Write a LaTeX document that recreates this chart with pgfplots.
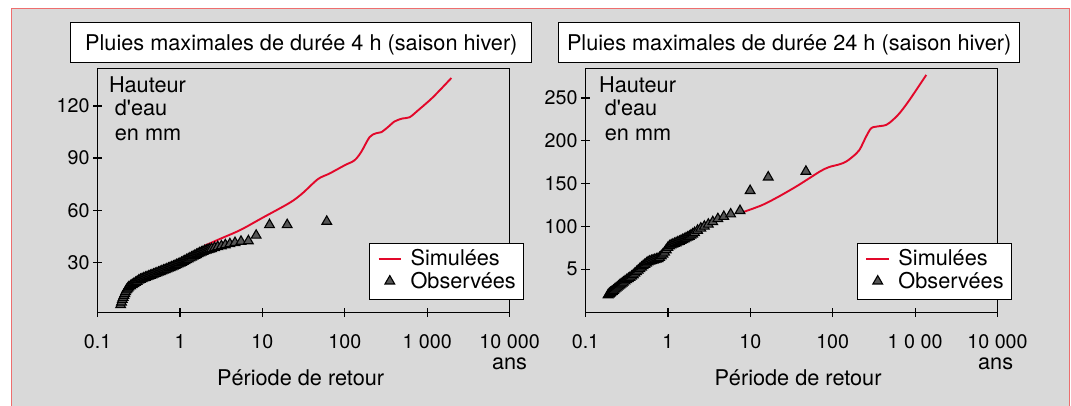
\documentclass[border=0pt]{standalone}
\usepackage{pgfplots}
\pgfplotsset{compat=1.18}
\usepackage{fontspec}
\setmainfont{TeX Gyre Heros}[Ligatures=TeXOff]
\definecolor{bgray}{RGB}{217,217,217}
\definecolor{bred}{RGB}{238,110,110}
\definecolor{simred}{RGB}{226,8,42}
\definecolor{obsgray}{RGB}{85,85,85}
\newcommand{\txt}{\fontsize{21.7}{26}\selectfont}
\pgfplotsset{
  panel/.style={
    scale only axis, width=412pt, height=244.2pt,
    anchor=south west,
    xmin=0.1, xmax=10000,
    xtick={0.1,1,10,100,1000,10000},
    xminorticks=false, yminorticks=false,
    axis line style={line width=1.2pt},
    every tick/.style={black, line width=1.2pt},
    major tick length=9pt,
    tick align=center,
    tick pos=left,
    clip=false,
    tick label style={font=\fontsize{19.7}{23}\selectfont},
    xticklabel style={anchor=base, yshift=-32pt},
    title style={at={(0.4944,1.0819)}, anchor=center, draw=black, fill=white,
      line width=1.2pt, minimum width=461pt, minimum height=40pt, inner sep=0pt,
      text height=15.5pt, text depth=0pt, font=\txt},
    legend style={at={(1.0357,0.2834)}, anchor=north east, draw=black, fill=white,
      line width=1.2pt, inner xsep=8pt, inner ysep=7pt, row sep=3.3pt,
      column sep=8.5pt, font=\txt, cells={anchor=base west},
      nodes={inner sep=0pt, text height=15pt, text depth=4pt}},
  },
  simstyle/.style={simred, line width=1.9pt, smooth, tension=0.5,
    legend image code/.code={\draw[simred, line width=1.9pt] (0pt,7pt) -- (22.6pt,7pt);}},
  obsstyle/.style={only marks, mark=triangle*, mark size=5.6pt,
    mark options={draw=black, fill=obsgray, line width=1.1pt},
    legend image code/.code={\draw[mark repeat=1,mark phase=1,##1] plot coordinates {(11.3pt,7pt)};}},
}
\begin{document}
\begin{tikzpicture}
\path[use as bounding box] (0pt,0pt) rectangle (1071pt,406pt);
\fill[white] (0pt,0pt) rectangle (1071pt,406pt);
\fill[bgray] (11pt,0pt) rectangle (1069pt,397pt);
\draw[bred, line width=1pt] (11pt,0pt) -- (11pt,397pt) -- (1069pt,397pt) -- (1069pt,0pt);

% ---------------- left panel ----------------
\begin{semilogxaxis}[panel, at={(97.6pt,93.5pt)},
  ymin=1.1, ymax=141.7,
  ytick={30,60,90,120}, yticklabels={30,60,90,120},
  xticklabels={0.1,1,10,100,1 000,10 000},
  title={Pluies maximales de durée 4 h (saison hiver)}]
\addplot[simstyle] coordinates {
(2.0,39.6) (3.0,43.3) (5.4,48.6) (10,55.6) (21.5,64.3) (30.6,69.7) (47.2,77.9)
(65.2,81.1) (100,85.9) (131,88.7) (158,93.5) (200,102.1) (240,104.3) (277,104.9)
(333,107.8) (402,111.1) (500,112.8) (611,113.5) (771,117.4) (1172,125.0) (1963,136.1)};
\addlegendentry{Simulées}
\addplot[obsstyle] coordinates {
(0.1905,5.5) (0.195,7.0) (0.1995,8.5) (0.2042,9.7) (0.2089,10.8) (0.2138,11.9)
(0.2188,13.0) (0.2239,14.0) (0.2291,14.6) (0.2344,15.2) (0.2399,15.8) (0.2512,16.4)
(0.263,17.1) (0.2754,17.7) (0.2884,18.3) (0.302,18.9) (0.3162,19.6) (0.3311,20.1)
(0.3467,20.5) (0.3631,20.9) (0.3802,21.3) (0.3981,21.6) (0.4169,22.0) (0.4365,22.4)
(0.4571,22.7) (0.4786,23.1) (0.5012,23.5) (0.5248,23.8) (0.5495,24.2) (0.5754,24.6)
(0.6026,25.0) (0.631,25.4) (0.6607,25.7) (0.6918,26.1) (0.7244,26.5) (0.7586,26.9)
(0.7943,27.3) (0.8318,27.7) (0.871,28.1) (0.912,28.6) (0.955,29.0) (1.0,29.4)
(1.047,29.9) (1.096,30.4) (1.148,30.9) (1.202,31.4) (1.259,31.9) (1.318,32.4)
(1.380,32.9) (1.445,33.4) (1.514,33.9) (1.585,34.4) (1.660,34.9) (1.738,35.4)
(1.820,35.8) (1.905,36.2) (1.995,36.6) (2.089,36.9) (2.188,37.2) (2.291,37.5)
(2.42,37.8) (2.63,38.4) (2.87,38.9) (3.18,39.4) (3.55,40.0) (4.03,40.6) (4.65,41.3)
(5.5,42.0) (6.76,42.3) (8.4,45.5) (12.2,51.6) (20.0,51.6) (60.4,53.5)};
\addlegendentry{Observées}
\node[anchor=base west, font=\txt, inner sep=0pt] at (axis description cs:0.0272,0.9017) {Hauteur};
\node[anchor=base west, font=\txt, inner sep=0pt] at (axis description cs:0.0415,0.8047) {d'eau};
\node[anchor=base west, font=\txt, inner sep=0pt] at (axis description cs:0.0415,0.7023) {en mm};
\node[anchor=base, font=\txt, inner sep=0pt] at (axis description cs:0.4927,-0.2969) {Période de retour};
\node[anchor=base, font=\txt, inner sep=0pt] at (axis description cs:1.0,-0.2326) {ans};
\end{semilogxaxis}

% ---------------- right panel ----------------
\begin{semilogxaxis}[panel, at={(585.5pt,93.5pt)},
  ymin=-0.5, ymax=284.8,
  ytick={50,100,150,200,250}, yticklabels={5,100,150,200,250},
  xticklabels={0.1,1,10,100,1 0 00,10 000},
  title={Pluies maximales de durée 24 h (saison hiver)}]
\addplot[simstyle] coordinates {
(8.3,117.0) (14.0,125.1) (22.0,134.8) (35.8,146.5) (51.9,156.3) (72.1,165.0)
(90.9,169.5) (120,172.5) (145,175.7) (174.6,181.5) (211,189.4) (254,204.9)
(292,214.7) (336,216.6) (445,218.6) (536,224.4) (646,232.2) (855,247.8) (1365,277.0)};
\addlegendentry{Simulées}
\addplot[obsstyle] coordinates {
(0.188,20.0) (0.1928,20.9) (0.1972,21.8) (0.2018,22.6) (0.2065,23.3) (0.2113,24.1)
(0.2188,25.3) (0.2265,26.5) (0.2344,27.7) (0.2427,28.9) (0.2512,30.1) (0.26,31.4)
(0.2692,32.5) (0.2786,33.7) (0.2884,34.8) (0.302,36.2) (0.3162,37.6) (0.3311,39.0)
(0.3467,40.3) (0.3631,41.8) (0.3802,43.4) (0.3981,45.2) (0.4169,47.0) (0.4365,48.8)
(0.4571,50.6) (0.4786,52.4) (0.5012,54.0) (0.5248,55.5) (0.5495,57.1) (0.5754,58.5)
(0.6026,59.4) (0.631,60.0) (0.6607,60.6) (0.6918,61.2) (0.7244,61.8) (0.7586,62.4)
(0.7943,63.6) (0.8318,65.6) (0.871,67.6) (0.912,69.8) (0.955,72.6) (1.0,75.3)
(1.047,77.2) (1.096,78.3) (1.148,79.1) (1.202,80.0) (1.259,80.8) (1.318,81.7)
(1.380,82.5) (1.445,83.5) (1.514,84.5) (1.585,85.4) (1.660,86.4) (1.738,87.4)
(1.820,88.4) (1.905,89.7) (1.995,91.0) (2.107,92.6) (2.292,95.4) (2.509,97.9)
(2.772,100.1) (3.096,102.5) (3.505,105.4) (4.04,108.9) (4.77,111.5) (5.78,114.4)
(7.5,118.4) (9.95,141.8) (16.5,157.6) (47.3,164.3)};
\addlegendentry{Observées}
\node[anchor=base west, font=\txt, inner sep=0pt] at (axis description cs:0.0325,0.9017) {Hauteur};
\node[anchor=base west, font=\txt, inner sep=0pt] at (axis description cs:0.0466,0.8047) {d'eau};
\node[anchor=base west, font=\txt, inner sep=0pt] at (axis description cs:0.0466,0.7023) {en mm};
\node[anchor=base, font=\txt, inner sep=0pt] at (axis description cs:0.5158,-0.2969) {Période de retour};
\node[anchor=base, font=\txt, inner sep=0pt] at (axis description cs:0.9954,-0.2326) {ans};
\end{semilogxaxis}
\end{tikzpicture}
\end{document}
